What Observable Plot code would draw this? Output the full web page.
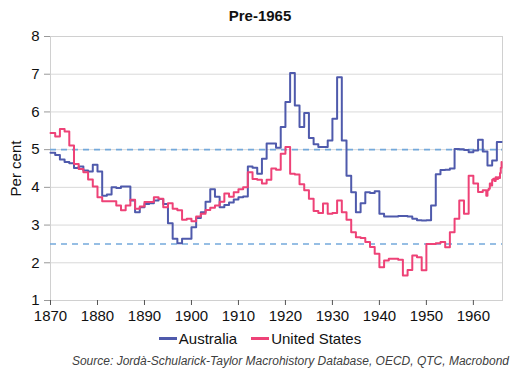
<!DOCTYPE html>
<html>
<head>
<meta charset="utf-8">
<script src="https://cdn.jsdelivr.net/npm/d3@7"></script>
<script src="https://cdn.jsdelivr.net/npm/@observablehq/plot@0.6"></script>
<style>
  html, body { margin: 0; padding: 0; background: #fff; }
  #wrap { position: relative; width: 520px; height: 380px; font-family: "Liberation Sans", Arial, sans-serif; color: #111; }
  #title { position: absolute; top: 7px; left: 0; width: 520px; text-align: center; font-weight: bold; font-size: 15px; }
  #chart { position: absolute; top: 0; left: 0; }
  #legend { position: absolute; top: 330px; left: 0; width: 520px; display: flex; justify-content: center; align-items: center; font-size: 15px; gap: 14px; }
  .item { display: flex; align-items: center; }
  .sw { display: inline-block; width: 18px; height: 2.5px; margin-right: 2px; }
  #source { position: absolute; top: 354px; right: 11px; font-style: italic; font-size: 12px; color: #404040; }
</style>
</head>
<body>
<div id="wrap">
  <div id="chart"></div>
  <div id="title">Pre-1965</div>
  <div id="legend"></div>
  <div id="source">Source: Jordà-Schularick-Taylor Macrohistory Database, OECD, QTC, Macrobond</div>
</div>
<script>
const seriesNames = ["Australia", "United States"];
const seriesColors = ["#4f5aac", "#ee4277"];

const ausYears = d3.range(1870, 1967);
const ausValues = [
  4.92, 4.86, 4.74, 4.67, 4.64, 4.51, 4.55, 4.45, 4.42, 4.60,
  4.42, 3.78, 3.81, 4.00, 3.98, 4.02, 4.02, 3.65, 3.34, 3.47,
  3.56, 3.58, 3.65, 3.69, 3.56, 3.05, 2.64, 2.52, 2.64, 2.64,
  2.94, 3.19, 3.34, 3.62, 3.95, 3.75, 3.47, 3.53, 3.60, 3.68,
  3.74, 3.76, 4.55, 4.52, 4.36, 4.76, 5.16, 5.16, 5.05, 5.60,
  6.26, 7.03, 6.17, 5.60, 5.97, 5.31, 5.14, 5.07, 5.07, 5.24,
  5.82, 6.92, 5.24, 4.31, 3.87, 3.34, 3.58, 3.87, 3.85, 3.90,
  3.30, 3.23, 3.23, 3.23, 3.24, 3.24, 3.23, 3.17, 3.13, 3.12,
  3.13, 3.52, 4.35, 4.46, 4.47, 4.50, 5.02, 5.01, 4.99, 4.93,
  4.98, 5.26, 4.95, 4.58, 4.71, 5.20, 5.20
];

const usAnnualYears = d3.range(1870, 1963);
const usAnnualValues = [
  5.44, 5.35, 5.55, 5.48, 5.11, 4.62, 4.49, 4.40, 4.21, 4.02,
  3.74, 3.63, 3.63, 3.63, 3.52, 3.39, 3.52, 3.67, 3.43, 3.49,
  3.61, 3.61, 3.74, 3.70, 3.47, 3.58, 3.43, 3.39, 3.14, 3.17,
  3.10, 3.23, 3.30, 3.40, 3.46, 3.52, 3.62, 3.84, 3.75, 3.87,
  3.95, 4.00, 4.40, 4.22, 4.20, 4.10, 4.20, 4.50, 4.47, 4.89,
  5.07, 4.36, 4.34, 4.08, 3.92, 3.70, 3.37, 3.32, 3.57, 3.30,
  3.32, 3.65, 3.34, 3.14, 2.81, 2.68, 2.66, 2.55, 2.42, 2.24,
  1.88, 2.06, 2.11, 2.11, 2.08, 1.66, 1.81, 2.19, 2.15, 1.80,
  2.50, 2.50, 2.52, 2.55, 2.41, 2.81, 3.17, 3.65, 3.30, 4.31,
  4.10, 3.88, 3.92
];
const usTailYears = [1962.75, 1963, 1963.25, 1963.5, 1963.75, 1964, 1964.25, 1964.5, 1964.75, 1965, 1965.25, 1965.5, 1965.67, 1965.83, 1966];
const usTailValues = [3.78, 3.92, 3.96, 4.10, 4.05, 4.20, 4.23, 4.17, 4.27, 4.22, 4.27, 4.25, 4.38, 4.52, 4.67];

const referenceLevels = [2.5, 5];
const xTicks = d3.range(1870, 1961, 10);
const yTicks = [1, 2, 3, 4, 5, 6, 7, 8];
const gridLevels = [2, 3, 4, 5, 6, 7];
const xDomain = [1870, 1966.2];
const yDomain = [1, 8];

const rows = [
  ...ausYears.map((y, i) => ({series: seriesNames[0], year: y, value: ausValues[i]})),
  ...usAnnualYears.map((y, i) => ({series: seriesNames[1], year: y, value: usAnnualValues[i]})),
  ...usTailYears.map((y, i) => ({series: seriesNames[1], year: y, value: usTailValues[i]}))
];

const chart = Plot.plot({
  width: 520,
  height: 325,
  marginLeft: 50,
  marginRight: 18,
  marginTop: 36,
  marginBottom: 25,
  style: {fontFamily: "'Liberation Sans', Arial, sans-serif", fontSize: "15px", color: "#111", background: "transparent", overflow: "visible"},
  x: {domain: xDomain},
  y: {domain: yDomain},
  color: {domain: seriesNames, range: seriesColors},
  marks: [
    Plot.ruleY(gridLevels, {stroke: "#d9d9d9", strokeWidth: 1}),
    Plot.frame({stroke: "#d0d0d0", strokeWidth: 1}),
    Plot.ruleY(referenceLevels, {stroke: "#74a9db", strokeWidth: 1.6, strokeDasharray: "6,5"}),
    Plot.axisX({ticks: xTicks, tickFormat: d => String(d), tickSize: 5, tickPadding: 5, stroke: "#555", label: null}),
    Plot.axisY({ticks: yTicks, tickFormat: d => String(d), tickSize: 6, tickPadding: 5, stroke: "#999", label: "Per cent", labelAnchor: "center", labelArrow: "none", labelOffset: 40}),
    Plot.line(rows, {x: "year", y: "value", z: "series", stroke: "series", strokeWidth: 2, curve: "step-after"})
  ]
});
document.getElementById("chart").appendChild(chart);

const legend = document.getElementById("legend");
seriesNames.forEach((name, i) => {
  const item = document.createElement("span");
  item.className = "item";
  const sw = document.createElement("span");
  sw.className = "sw";
  sw.style.background = seriesColors[i];
  item.appendChild(sw);
  item.appendChild(document.createTextNode(name));
  legend.appendChild(item);
});
</script>
</body>
</html>
